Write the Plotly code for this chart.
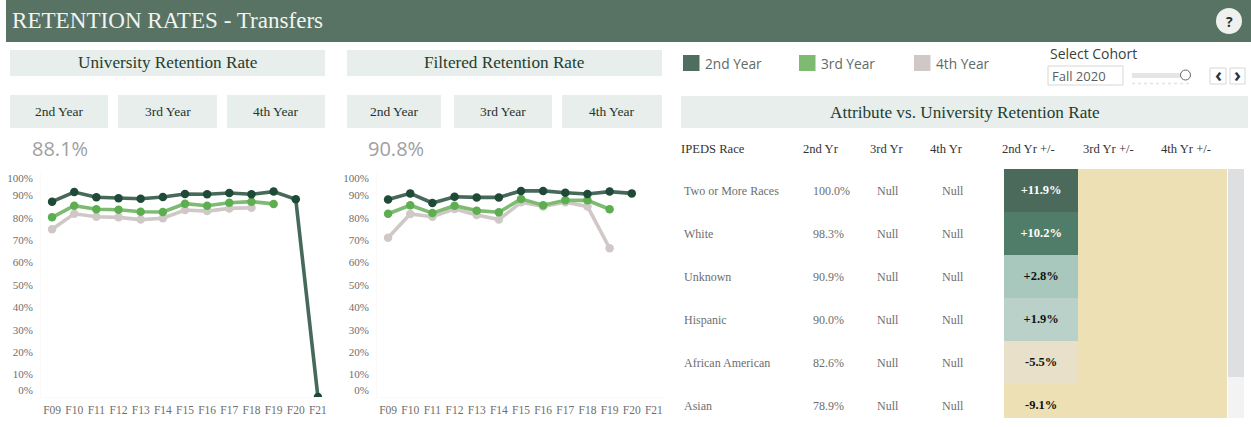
import plotly.graph_objects as go

W, H = 1251, 427

# ---------- data ----------
cohorts = ["F09", "F10", "F11", "F12", "F13", "F14", "F15", "F16", "F17", "F18", "F19", "F20", "F21"]
univ_2nd = [87.2, 91.5, 89.2, 88.7, 88.5, 89.3, 90.6, 90.5, 91.1, 90.5, 91.7, 88.3, 0.0]
univ_3rd = [80.2, 85.4, 83.8, 83.6, 82.7, 82.6, 86.3, 85.4, 86.7, 87.2, 86.2]
univ_4th = [74.9, 81.8, 80.5, 80.2, 79.2, 79.8, 83.5, 83.0, 84.2, 84.5]
filt_2nd = [88.2, 90.9, 86.6, 89.4, 89.1, 89.1, 92.0, 92.0, 91.2, 90.6, 91.7, 90.9]
filt_3rd = [81.8, 85.6, 82.1, 85.4, 83.2, 82.5, 88.4, 85.6, 87.8, 87.8, 83.8]
filt_4th = [71.1, 81.7, 80.5, 83.9, 81.3, 79.2, 86.9, 85.1, 86.9, 85.1, 66.4]

y_tick_vals = [2.9, 10, 20, 30, 40, 50, 60, 70, 80, 90, 97.6]
y_tick_text = ["0%", "10%", "20%", "30%", "40%", "50%", "60%", "70%", "80%", "90%", "100%"]

races = ["Two or More Races", "White", "Unknown", "Hispanic", "African American", "Asian"]
rate_2nd = ["100.0%", "98.3%", "90.9%", "90.0%", "82.6%", "78.9%"]
rate_3rd = ["Null"] * 6
rate_4th = ["Null"] * 6
diff_2nd = [11.9, 10.2, 2.8, 1.9, -5.5, -9.1]
diff_labels = ["+11.9%", "+10.2%", "+2.8%", "+1.9%", "-5.5%", "-9.1%"]
table_headers = ["IPEDS Race", "2nd Yr", "3rd Yr", "4th Yr", "2nd Yr +/-", "3rd Yr +/-", "4th Yr +/-"]

kpi_university = "88.1%"
kpi_filtered = "90.8%"
year_buttons = ["2nd Year", "3rd Year", "4th Year"]

# ---------- style ----------
SERIF = "Liberation Serif"
SANS = "Open Sans"
HEADER = "#587264"
PANEL = "#E8EEEB"
YEL = "#EDE0B5"
STY = {
    "2nd Year": ("#46695A", "#1F4A38"),
    "3rd Year": ("#7DBB72", "#5DAE50"),
    "4th Year": ("#CFC8C6", "#CFC8C6"),
}


def px_x(p):
    return p / W


def px_y(p):
    return 1 - p / H


shapes = []
annots = []


def rect(x0, y0, x1, y1, fill, line=None):
    shapes.append(dict(type="rect", xref="paper", yref="paper", layer="below",
                       x0=px_x(x0), x1=px_x(x1), y0=px_y(y1), y1=px_y(y0),
                       fillcolor=fill, line=dict(color=line or fill, width=1 if line else 0)))


def text(x, y, s, size, color, family=SERIF, anchor="center"):
    annots.append(dict(xref="paper", yref="paper", x=px_x(x), y=px_y(y), text=s, showarrow=False,
                       xanchor=anchor, yanchor="middle", borderpad=0, borderwidth=0,
                       font=dict(size=size, color=color, family=family)))


fig = go.Figure()


def add_lines(xa, ya, s2, s3, s4):
    for name, vals in [("4th Year", s4), ("3rd Year", s3), ("2nd Year", s2)]:
        lc, mc = STY[name]
        fig.add_trace(go.Scatter(x=cohorts[:len(vals)], y=vals, mode="lines+markers", name=name,
                                 xaxis=xa, yaxis=ya, showlegend=False,
                                 line=dict(color=lc, width=3.6),
                                 marker=dict(color=mc, size=8.5)))


add_lines("x", "y", univ_2nd, univ_3rd, univ_4th)
add_lines("x2", "y2", filt_2nd, filt_3rd, filt_4th)

# heat column
fig.add_trace(go.Heatmap(
    z=[[v] for v in diff_2nd], x=[table_headers[4]], y=list(range(6)),
    xaxis="x3", yaxis="y3", showscale=False, zmin=-9.1, zmax=11.9, xgap=0, ygap=0,
    colorscale=[[0, "#EDE0B5"], [0.171, "#E8E0C8"], [0.524, "#BAD1C9"], [0.567, "#A9C8BD"],
                [0.919, "#4F7D6A"], [1, "#4C6A5C"]]))
for idx, col in [((0, 1), "#FFFFFF"), ((2, 3, 4, 5), "#111111")]:
    fig.add_trace(go.Scatter(
        x=[table_headers[4]] * len(idx), y=list(idx), mode="text",
        text=["<b>" + diff_labels[i] + "</b>" for i in idx], xaxis="x3", yaxis="y3",
        showlegend=False, textposition="middle center",
        textfont=dict(family=SERIF, size=12.5, color=col)))

# table text
for col_x, col in [(683, races), (812, rate_2nd), (876, rate_3rd), (941, rate_4th)]:
    for i, s in enumerate(col):
        annots.append(dict(xref="paper", yref="y3", x=px_x(col_x), y=i, text=s, showarrow=False,
                           xanchor="left", yanchor="middle", borderpad=0,
                           font=dict(size=12, color="#6E6E6E", family=SERIF)))
for hx, h in zip([681, 803, 870, 930, 1002, 1083, 1161], table_headers):
    text(hx, 149, h, 12.6, "#333333", SERIF, "left")

# header band
rect(6, 0, W, 42, HEADER)
text(12, 20, "RETENTION RATES - Transfers", 23.1, "#F1F4F1", SERIF, "left")
shapes.append(dict(type="circle", xref="paper", yref="paper", x0=px_x(1216), x1=px_x(1242),
                   y0=px_y(34), y1=px_y(8), fillcolor="#EEF1EE", line=dict(width=0)))
text(1229, 21, "<b>?</b>", 14, "#24352D", SANS)

# panels
for x0, x1, title, btns in [(10, 325, "University Retention Rate", [(10, 108), (118, 217), (227, 325)]),
                            (347, 662, "Filtered Retention Rate", [(347, 441), (454, 552), (562, 662)])]:
    rect(x0, 50, x1, 76, PANEL)
    text((x0 + x1) / 2, 63, title, 17.2, "#1F3D30")
    for (a, b), lab in zip(btns, year_buttons):
        rect(a, 95, b, 128, PANEL)
        text((a + b) / 2, 111, lab, 13.5, "#26332D")
text(32, 149, kpi_university, 20, "#A0A0A0", SANS, "left")
text(368, 149, kpi_filtered, 20, "#A0A0A0", SANS, "left")

# legend
for sx, tx, name, c in [(683, 705, "2nd Year", "#4E6F60"), (799, 821, "3rd Year", "#7DBB72"),
                        (914, 936, "4th Year", "#CFC8C6")]:
    rect(sx, 55, sx + 16.5, 71, c)
    text(tx, 64, name, 13.7, "#5F6B66", SANS, "left")

# cohort selector
text(1050, 53, "Select Cohort", 14, "#3A3F3D", SANS, "left")
rect(1048, 66, 1123, 85, "#FFFFFF", "#D5D8D6")
text(1052, 76, "Fall 2020", 13, "#5A5F5D", SANS, "left")
rect(1132, 73, 1180, 78, "#E4E6E5")
shapes.append(dict(type="line", xref="paper", yref="paper", x0=px_x(1132), x1=px_x(1190),
                   y0=px_y(83.5), y1=px_y(83.5), line=dict(color="#E2E4E3", width=1.5, dash="dot")))
shapes.append(dict(type="circle", xref="paper", yref="paper", x0=px_x(1180.5), x1=px_x(1190.5),
                   y0=px_y(80), y1=px_y(70), fillcolor="#FFFFFF", line=dict(color="#666666", width=1)))
for a, b, s in [(1210, 1226, "‹"), (1230, 1245, "›")]:
    rect(a, 68, b, 84, "#FFFFFF", "#D5D8D6")
    text((a + b) / 2, 75, "<b>" + s + "</b>", 19, "#333333", SANS)

# attribute table band and yellow field, scrollbar
rect(681, 96, 1248, 128, PANEL)
text(965, 112, "Attribute vs. University Retention Rate", 17.2, "#1F3D30")
rect(1004, 169, 1227, 418, YEL)
rect(1228, 169, 1244, 377, "#DEDFE0")
rect(1228, 377, 1244, 418, "#F3F3F4")


def xax(x0, x1, anchor):
    return dict(domain=[px_x(x0), px_x(x1)], anchor=anchor, type="category",
                categoryorder="array", categoryarray=cohorts, range=[-0.5, 12.5],
                showgrid=False, zeroline=False, showline=True, linecolor="#FAFAFA", ticks="",
                ticklabelstandoff=2, tickangle=0, tickmode="array", tickvals=cohorts, ticktext=cohorts,
                tickfont=dict(family=SERIF, size=11.5, color="#6E6E6E"))


def yax(x_anchor):
    return dict(domain=[px_y(397), px_y(173)], anchor=x_anchor, range=[0, 100], showgrid=False,
                zeroline=False, showline=True, linecolor="#FAFAFA", ticks="", ticklabelstandoff=5,
                tickmode="array", tickvals=y_tick_vals, ticktext=y_tick_text,
                tickfont=dict(family=SERIF, size=11, color="#6E6E6E"))


fig.update_layout(
    width=W, height=H, margin=dict(l=0, r=0, t=0, b=0), paper_bgcolor="#FFFFFF", plot_bgcolor="rgba(0,0,0,0)",
    showlegend=False, shapes=shapes, annotations=annots,
    xaxis=xax(41, 329, "y"), yaxis=yax("x"),
    xaxis2=xax(377, 665, "y2"), yaxis2=yax("x2"),
    xaxis3=dict(domain=[px_x(1004), px_x(1227)], anchor="y3", type="category",
                categoryorder="array", categoryarray=table_headers[4:], range=[-0.5, 2.5], visible=False),
    yaxis3=dict(domain=[px_y(418), px_y(169)], anchor="x3", range=[5.29, -0.5], visible=False),
)

fig.write_html("out.html", config={"displayModeBar": False},
               post_script="document.body.style.margin='0';document.body.style.overflow='hidden';")
